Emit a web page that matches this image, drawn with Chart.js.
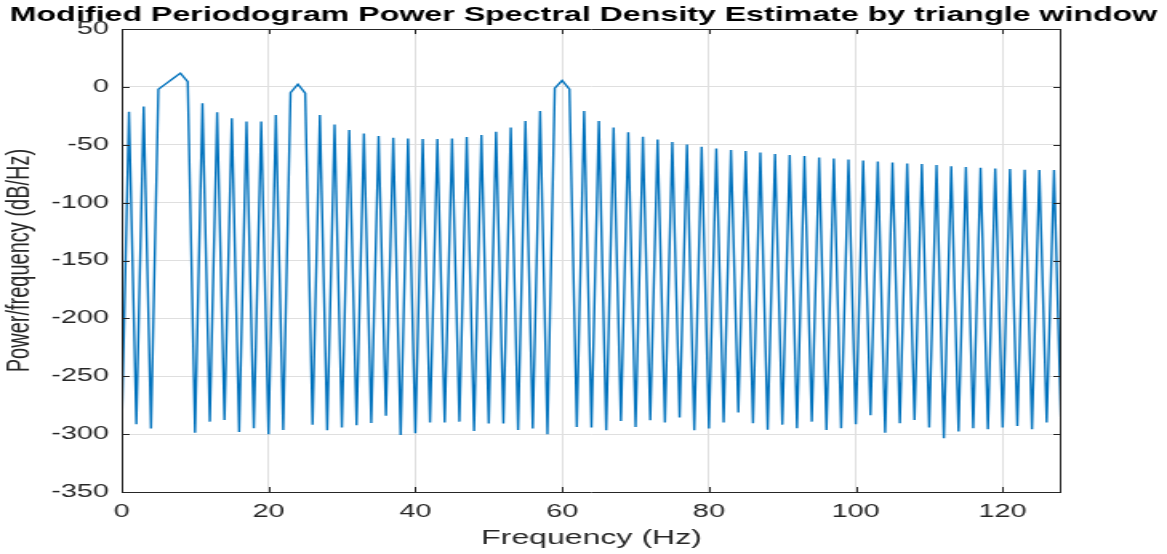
<!DOCTYPE html>
<html>
<head>
<meta charset="utf-8">
<script src="https://cdn.jsdelivr.net/npm/chart.js@4/dist/chart.umd.min.js"></script>
<style>
html,body{margin:0;padding:0;background:#fff;overflow:hidden;}
#wrap{position:absolute;left:0;top:0;width:729px;height:554px;transform:scaleX(1.6008);transform-origin:0 0;}
</style>
</head>
<body>
<div id="wrap"><canvas id="c" width="729" height="554"></canvas></div>
<script>
// Frequency bins (Hz)
const frequencies = [0,1,2,3,4,5,6,7,8,9,10,11,12,13,14,15,16,17,18,19,20,21,22,23,24,25,26,27,28,29,30,31,32,33,34,35,36,37,38,39,40,41,42,43,44,45,46,47,48,49,50,51,52,53,54,55,56,57,58,59,60,61,62,63,64,65,66,67,68,69,70,71,72,73,74,75,76,77,78,79,80,81,82,83,84,85,86,87,88,89,90,91,92,93,94,95,96,97,98,99,100,101,102,103,104,105,106,107,108,109,110,111,112,113,114,115,116,117,118,119,120,121,122,123,124,125,126,127,128];
// Power/frequency (dB/Hz)
const psdValues = [
 -297, -21.4, -291.4, -17, -295.2, -2, 2.6, 7.3, 11.9, 4.6,
 -298.7, -14.1, -289.2, -21.9, -287.7, -27.2, -298.1, -30, -294.9, -30,
 -300.1, -24.3, -296.4, -5, 2.3, -5.5, -291.8, -24.3, -296.6, -32.4,
 -294.3, -37.3, -292.3, -40.2, -290.3, -42.5, -284.2, -43.9, -300.7, -44.5,
 -299.2, -45, -290, -45, -290, -44.5, -289.2, -43.4, -297.2, -41.6,
 -290.9, -38.7, -290.9, -35.2, -296.4, -29.5, -295.2, -20.8, -300.1, -1.1,
 5.5, -2, -293.8, -20.8, -294.3, -29.5, -296.6, -35.2, -288.6, -39.3,
 -293.8, -43, -288, -45.4, -290, -47.7, -285.7, -49.7, -296.6, -51.7,
 -295.2, -53.2, -290, -54.6, -281.4, -55.5, -290.6, -56.6, -296.1, -58,
 -291.8, -58.9, -294.9, -59.8, -289.2, -61, -296.4, -61.8, -294.9, -62.7,
 -291.4, -63.5, -283.6, -64.4, -298.7, -65.3, -290.6, -66.1, -287.7, -66.7,
 -294.3, -67.6, -303.6, -68.5, -297.8, -69.3, -294.9, -69.9, -295.8, -70.5,
 -294.3, -71, -292.9, -71.6, -295.8, -71.9, -290, -71.9, -301.6
];
const xTicks = [0, 20, 40, 60, 80, 100, 120];
const yTicks = [-350, -300, -250, -200, -150, -100, -50, 0, 50];

const titleText = 'Modified Periodogram Power Spectral Density Estimate by triangle window';
const xLabel = 'Frequency (Hz)';
const yLabel = 'Power/frequency (dB/Hz)';

const FONT = "'Liberation Sans', Arial, Helvetica, sans-serif";
const AXC = '#262626';

const boxPlugin = {
  id: 'matlabBox',
  afterDatasetsDraw(chart) {
    const {ctx, chartArea: a, scales} = chart;
    ctx.save();
    ctx.strokeStyle = AXC;
    ctx.lineWidth = 1;
    ctx.beginPath();
    ctx.rect(Math.round(a.left) + 0.5, Math.round(a.top) + 0.5, Math.round(a.right - a.left) - 1, Math.round(a.bottom - a.top));
    ctx.stroke();
    const tl = 5;
    ctx.beginPath();
    xTicks.forEach(v => {
      const px = Math.round(scales.x.getPixelForValue(v)) + 0.5;
      ctx.moveTo(px, a.bottom); ctx.lineTo(px, a.bottom - tl);
      ctx.moveTo(px, a.top); ctx.lineTo(px, a.top + tl);
    });
    yTicks.forEach(v => {
      const py = Math.round(scales.y.getPixelForValue(v)) + 0.5;
      ctx.moveTo(a.left, py); ctx.lineTo(a.left + tl, py);
      ctx.moveTo(a.right, py); ctx.lineTo(a.right - tl, py);
    });
    ctx.stroke();
    ctx.restore();
  }
};

new Chart(document.getElementById('c'), {
  type: 'line',
  data: {
    datasets: [{
      data: frequencies.map((f, i) => ({x: f, y: psdValues[i]})),
      borderColor: '#0072BD',
      borderWidth: 1.4,
      pointRadius: 0,
      tension: 0,
      fill: false
    }]
  },
  options: {
    responsive: false,
    animation: false,
    devicePixelRatio: 1,
    layout: {padding: 0},
    plugins: {
      legend: {display: false},
      tooltip: {enabled: false},
      title: {
        display: true,
        text: titleText,
        color: '#000',
        font: {family: FONT, size: 20.1, weight: 'bold', lineHeight: 1.2},
        padding: {top: 3.5, bottom: 1.4}
      }
    },
    scales: {
      x: {
        type: 'linear',
        min: 0, max: 128,
        afterBuildTicks(scale) { scale.ticks = xTicks.map(v => ({value: v})); },
        afterFit(scale) { scale.height = 62; },
        ticks: {color: AXC, font: {family: FONT, size: 18}, padding: 9, maxRotation: 0, includeBounds: false},
        grid: {color: '#dfdfdf', lineWidth: 1, drawTicks: false},
        border: {display: false},
        title: {display: true, text: xLabel, color: AXC, font: {family: FONT, size: 20, lineHeight: 1.2}, padding: {top: 4, bottom: 4}}
      },
      y: {
        type: 'linear',
        min: -350, max: 50,
        afterBuildTicks(scale) { scale.ticks = yTicks.map(v => ({value: v})); },
        afterFit(scale) { scale.width = 76; },
        ticks: {color: AXC, font: {family: FONT, size: 18}, padding: 8},
        grid: {color: '#dfdfdf', lineWidth: 1, drawTicks: false},
        border: {display: false},
        title: {display: true, text: yLabel, color: AXC, font: {family: FONT, size: 20, lineHeight: 1.2}, padding: {top: 0, bottom: 0}}
      },
      yRight: {
        type: 'linear',
        position: 'right',
        min: -350, max: 50,
        afterFit(scale) { scale.width = 66; },
        ticks: {display: false},
        grid: {display: false, drawTicks: false},
        border: {display: false}
      }
    }
  },
  plugins: [boxPlugin]
});
</script>
</body>
</html>
